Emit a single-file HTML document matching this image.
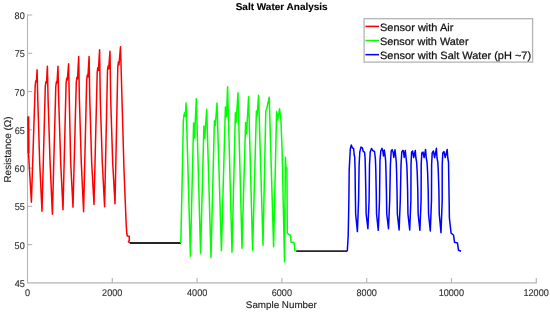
<!DOCTYPE html>
<html><head><meta charset="utf-8"><style>
html,body{margin:0;padding:0;background:#fff;width:550px;height:312px;overflow:hidden}
svg{display:block;will-change:transform}
text{font-family:"Liberation Sans", sans-serif;fill:#1c1c1c;text-rendering:geometricPrecision;stroke:#1c1c1c;stroke-width:0.25px}
.tk text{fill:#2e2e2e;stroke:#2e2e2e;stroke-width:0.12px}
.lb text{fill:#262626;stroke:#262626;stroke-width:0.15px}
.lg text{fill:#141414;stroke:#141414;stroke-width:0.25px}
</style></head><body>
<svg width="550" height="312" viewBox="0 0 550 312">
<rect width="550" height="312" fill="#fff"/>
<g stroke="#b4b4b4" stroke-width="1.1" fill="none">
<line x1="27.5" y1="14.5" x2="27.5" y2="282.9"/>
<line x1="27" y1="282.9" x2="536.8" y2="282.9" stroke-width="1.3"/>
<line x1="27.5" y1="15.00" x2="32.2" y2="15.00"/><line x1="27.5" y1="53.27" x2="32.2" y2="53.27"/><line x1="27.5" y1="91.54" x2="32.2" y2="91.54"/><line x1="27.5" y1="129.81" x2="32.2" y2="129.81"/><line x1="27.5" y1="168.08" x2="32.2" y2="168.08"/><line x1="27.5" y1="206.35" x2="32.2" y2="206.35"/><line x1="27.5" y1="244.62" x2="32.2" y2="244.62"/><line x1="112.30" y1="282.90" x2="112.30" y2="278.1"/><line x1="197.10" y1="282.90" x2="197.10" y2="278.1"/><line x1="281.90" y1="282.90" x2="281.90" y2="278.1"/><line x1="366.70" y1="282.90" x2="366.70" y2="278.1"/><line x1="451.50" y1="282.90" x2="451.50" y2="278.1"/><line x1="536.30" y1="282.90" x2="536.30" y2="278.1"/>
</g>

<g fill="none" stroke-linejoin="round" stroke-linecap="butt" stroke-width="1.5">
<polyline stroke="#ff0000" points="28.30,116.40 28.50,153.00 31.40,202.15 35.20,85.50 35.80,80.80 36.40,81.50 37.10,69.75 37.80,100.00 39.70,163.00 42.00,211.15 45.30,86.50 45.90,81.80 46.50,83.00 47.40,66.15 48.10,100.00 50.10,163.00 52.40,214.15 55.80,86.50 56.40,81.80 57.00,83.00 58.00,66.15 58.70,100.00 60.70,163.00 63.00,209.75 66.10,83.00 66.70,78.30 67.30,80.00 68.60,63.75 69.30,100.00 70.70,163.00 73.00,207.15 76.30,82.00 76.90,77.30 77.50,79.00 78.70,56.55 79.40,100.00 81.30,163.00 83.60,211.75 86.70,79.60 87.30,74.90 87.90,77.10 89.10,56.55 89.80,100.00 91.70,163.00 94.00,204.55 97.20,72.40 97.80,67.70 98.40,70.40 99.60,49.75 100.30,100.00 102.30,163.00 104.60,206.75 107.50,70.70 108.10,66.00 108.70,68.70 110.00,51.15 110.70,100.00 112.70,163.00 115.00,203.75 117.80,66.80 118.40,62.10 119.00,64.80 120.50,46.75 124.00,170.00 125.20,200.00 126.20,225.00 126.80,233.50 127.40,236.00 129.20,236.30 129.30,240.50 128.40,241.50 129.80,243.00"/>
<polyline stroke="#ff0000" stroke-width="2.1" points="28.3,116.4 28.5,153"/>
<polyline stroke="#262626" stroke-width="1.8" points="129.80,243.00 180.80,243.00"/>
<polyline stroke="#00ff00" points="180.80,243.00 182.90,145.00 183.30,121.00 184.00,115.00 184.80,112.60 185.30,116.50 186.10,102.95 190.40,256.15 193.60,123.00 194.50,138.00 196.30,98.75 200.60,253.55 203.90,126.00 204.70,138.50 206.70,109.35 211.00,257.55 214.40,120.80 215.30,125.50 217.00,102.95 221.40,250.75 225.40,107.00 226.50,117.00 227.60,86.75 232.00,252.15 235.40,112.80 236.10,122.50 238.00,92.75 242.00,248.15 245.60,122.50 246.50,134.00 248.60,96.75 252.60,250.15 256.40,111.00 257.10,116.00 258.60,95.15 263.00,245.15 265.80,111.00 266.70,109.00 269.20,97.25 273.60,246.75 276.60,111.50 277.60,120.00 279.60,108.75 281.00,122.00 282.10,150.00 284.50,261.75 285.40,157.25 285.90,167.00 286.90,168.50 287.10,200.00 287.30,233.40 290.70,235.70 291.00,241.90 294.00,242.60 295.00,250.80 296.30,251.10"/>
<polyline stroke="#262626" stroke-width="1.8" points="296.30,251.10 347.30,251.10"/>
<polyline stroke="#0000ff" points="347.30,251.10 348.20,236.00 348.80,205.00 349.20,170.00 350.30,149.00 351.30,145.05 352.30,147.80 353.60,148.50 354.20,155.00 354.70,157.00 355.10,170.00 355.30,190.00 355.65,214.00 357.40,231.60 358.60,200.00 359.10,165.00 359.80,152.00 361.00,147.10 362.40,148.00 363.30,151.50 364.60,152.20 365.10,158.00 365.40,170.00 365.80,190.00 366.15,214.00 367.90,228.70 369.10,200.00 369.50,165.00 370.20,152.00 371.50,148.40 372.80,150.60 374.50,151.50 375.40,159.00 375.80,170.00 376.20,190.00 376.55,214.00 378.30,230.30 379.50,200.00 380.00,160.00 380.80,151.00 382.00,148.40 382.80,151.00 383.50,156.00 384.30,150.10 385.00,155.00 385.60,160.00 386.00,172.00 386.40,190.00 386.75,214.00 388.50,228.70 389.70,200.00 390.40,165.00 391.20,151.00 392.10,149.60 393.00,152.00 393.80,157.50 395.00,149.80 395.70,156.00 396.30,163.00 396.60,172.00 397.00,190.00 397.35,214.00 399.10,229.90 400.30,200.00 401.00,165.00 401.80,152.00 402.60,150.50 403.40,151.00 404.20,157.50 405.30,150.50 406.00,157.00 406.80,165.00 407.10,172.00 407.60,190.00 407.95,214.00 409.70,229.90 410.90,200.00 411.00,165.00 411.60,152.00 412.60,151.00 413.70,157.50 415.30,150.50 415.90,158.00 416.60,162.00 417.20,172.00 417.80,190.00 418.15,214.00 419.90,230.30 421.10,200.00 421.20,165.00 421.80,153.00 423.00,152.00 424.10,157.50 425.60,149.50 426.20,158.00 427.00,162.00 427.60,172.00 428.20,190.00 428.55,214.00 430.30,231.00 431.50,200.00 431.60,165.00 432.20,153.00 433.40,151.00 434.60,157.50 436.40,148.30 437.00,158.00 437.80,162.00 438.30,172.00 438.90,190.00 439.25,214.00 441.00,232.70 442.20,200.00 442.20,165.00 442.80,153.00 444.00,151.60 445.20,157.50 447.20,149.50 447.80,158.00 448.50,162.00 448.90,185.00 449.20,205.00 449.40,218.00 451.10,233.20 453.50,235.00 454.50,242.20 457.50,243.00 458.50,250.30 461.00,251.30"/>
</g>
<g class="tk"><text transform="translate(14.62,19.10) scale(0.9400,1)" font-size="9.7">80</text><text transform="translate(14.64,57.37) scale(0.9400,1)" font-size="9.7">75</text><text transform="translate(14.62,95.64) scale(0.9400,1)" font-size="9.7">70</text><text transform="translate(14.64,133.91) scale(0.9400,1)" font-size="9.7">65</text><text transform="translate(14.62,172.18) scale(0.9400,1)" font-size="9.7">60</text><text transform="translate(14.64,210.45) scale(0.9400,1)" font-size="9.7">55</text><text transform="translate(14.62,248.72) scale(0.9400,1)" font-size="9.7">50</text><text transform="translate(14.64,286.99) scale(0.9400,1)" font-size="9.7">45</text><text transform="translate(24.97,295.55) scale(0.9400,1)" font-size="9.7">0</text><text transform="translate(102.11,295.55) scale(0.9400,1)" font-size="9.7">2000</text><text transform="translate(187.03,295.55) scale(0.9400,1)" font-size="9.7">4000</text><text transform="translate(271.71,295.55) scale(0.9400,1)" font-size="9.7">6000</text><text transform="translate(356.54,295.55) scale(0.9400,1)" font-size="9.7">8000</text><text transform="translate(438.65,295.55) scale(0.9400,1)" font-size="9.7">10000</text><text transform="translate(523.45,295.55) scale(0.9400,1)" font-size="9.7">12000</text></g>
<text transform="translate(235.71,10.30) scale(1.0115,1)" font-size="9.9" font-weight="bold" style="fill:#000;stroke:#000;stroke-width:0.12px">Salt Water Analysis</text>
<g class="lb"><text transform="translate(245.85,307.80) scale(1.0134,1)" font-size="9.7">Sample Number</text>
<text transform="translate(10.6,182.57) rotate(-90) scale(1.0087,1)" font-size="9.9">Resistance (Ω)</text></g>
<rect x="364.1" y="18.7" width="168.5" height="43.4" fill="#fff" stroke="#b4b4b4" stroke-width="1.3"/>
<g stroke-width="1.55">
<line x1="365.4" y1="26.4" x2="379.0" y2="26.4" stroke="#ff0000"/>
<line x1="365.4" y1="40.55" x2="379.0" y2="40.55" stroke="#00ff00"/>
<line x1="365.4" y1="54.65" x2="379.0" y2="54.65" stroke="#0000ff"/>
</g>
<g class="lg"><text transform="translate(379.99,30.60) scale(1.0382,1)" font-size="10.6">Sensor with Air</text><text transform="translate(380.00,44.70) scale(1.0277,1)" font-size="10.6">Sensor with Water</text><text transform="translate(380.00,58.70) scale(1.0356,1)" font-size="10.6">Sensor with Salt Water (pH ~7)</text></g>
</svg>
</body></html>
